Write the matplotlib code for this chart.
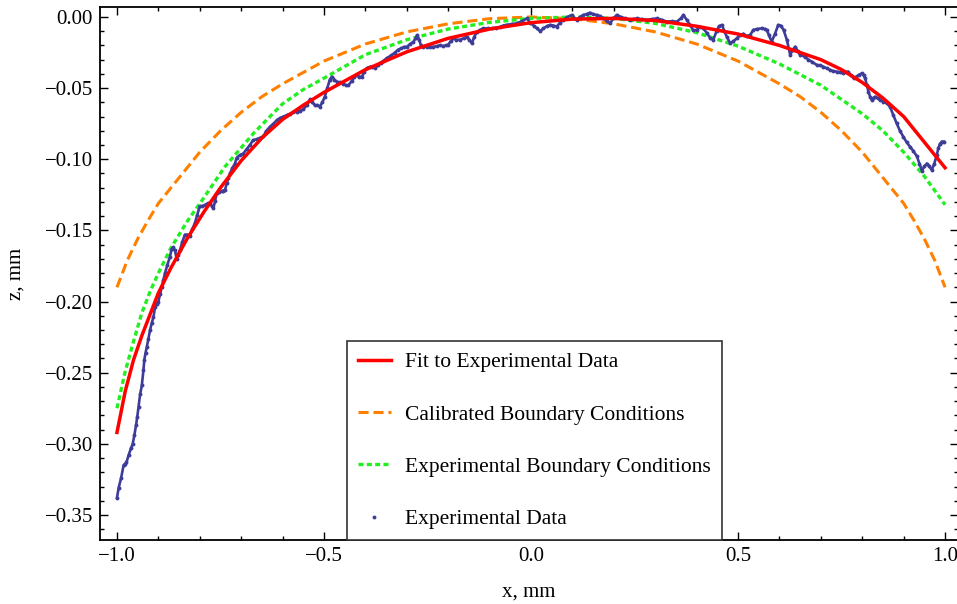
import matplotlib
matplotlib.use("Agg")
import matplotlib.pyplot as plt
from matplotlib.lines import Line2D
from matplotlib.ticker import MultipleLocator, FuncFormatter

plt.rcParams['font.family'] = ['Liberation Serif', 'DejaVu Serif']

fit_x = [-1.0, -0.98, -0.96, -0.94, -0.92, -0.9, -0.87, -0.83, -0.79, -0.75,
         -0.7, -0.65, -0.6, -0.55, -0.5, -0.4, -0.3, -0.2, -0.1, 0.0,
         0.1, 0.2, 0.3, 0.4, 0.5, 0.6, 0.7, 0.75, 0.8, 0.85, 0.9, 0.95, 1.0]
fit_z = [-0.292, -0.263, -0.241, -0.224, -0.209, -0.194, -0.1765, -0.1555, -0.137, -0.120,
         -0.101, -0.085, -0.072, -0.062, -0.053, -0.037, -0.0245, -0.015, -0.0085, -0.004,
         -0.0015, -0.001, -0.0025, -0.0065, -0.012, -0.020, -0.030, -0.037, -0.046, -0.057,
         -0.070, -0.088, -0.106]

# Calibrated boundary conditions
cal_x = [-1.0, -0.975, -0.95, -0.925, -0.9, -0.85, -0.8, -0.75, -0.7, -0.65, -0.6,
         -0.5, -0.4, -0.3, -0.2, -0.1, 0.0, 0.1, 0.2, 0.3, 0.4, 0.5,
         0.6, 0.65, 0.7, 0.75, 0.8, 0.85, 0.9, 0.925, 0.95, 0.975, 1.0]
cal_z = [-0.190, -0.171, -0.156, -0.143, -0.131, -0.113, -0.095, -0.080, -0.067, -0.056, -0.047,
         -0.031, -0.019, -0.0105, -0.0048, -0.0012, 0.0, -0.0012, -0.0048, -0.0105, -0.019, -0.031,
         -0.047, -0.056, -0.067, -0.080, -0.095, -0.113, -0.131, -0.143, -0.156, -0.171, -0.190]

# Experimental boundary conditions
exp_x = [-1.0, -0.98, -0.96, -0.94, -0.92, -0.9, -0.87, -0.83, -0.79, -0.74,
         -0.67, -0.6, -0.55, -0.5, -0.4, -0.3, -0.2, -0.1, 0.0, 0.1,
         0.2, 0.3, 0.4, 0.5, 0.6, 0.7, 0.8, 0.85, 0.9, 0.95, 1.0]
exp_z = [-0.275, -0.249, -0.228, -0.208, -0.193, -0.180, -0.1625, -0.1435, -0.127, -0.1055,
         -0.0817, -0.061, -0.051, -0.043, -0.0265, -0.016, -0.0085, -0.0038, -0.001, 0.0,
         -0.001, -0.0045, -0.011, -0.0205, -0.033, -0.048, -0.068, -0.080, -0.095, -0.112, -0.132]

# Experimental data points
data_x = [-1.000, -0.996, -0.990, -0.984, -0.980, -0.977, -0.972, -0.966, -0.962, -0.958,
          -0.954, -0.951, -0.948, -0.944, -0.940, -0.936, -0.934, -0.931, -0.928, -0.924,
          -0.920, -0.916, -0.912, -0.908, -0.904, -0.900, -0.896, -0.892, -0.888, -0.884,
          -0.878, -0.872, -0.868, -0.864, -0.860, -0.856, -0.852, -0.848, -0.842, -0.836,
          -0.830, -0.824, -0.818, -0.812, -0.806, -0.800, -0.794, -0.787, -0.781, -0.775,
          -0.771, -0.767, -0.763, -0.759, -0.753, -0.747, -0.743, -0.739, -0.735, -0.731,
          -0.727, -0.721, -0.715, -0.711, -0.703, -0.695, -0.687, -0.679, -0.671, -0.663,
          -0.655, -0.647, -0.639, -0.630, -0.622, -0.614, -0.606, -0.598, -0.590, -0.582,
          -0.574, -0.566, -0.558, -0.550, -0.542, -0.534, -0.528, -0.522, -0.516, -0.510,
          -0.504, -0.498, -0.492, -0.486, -0.481, -0.475, -0.469, -0.461, -0.453, -0.447,
          -0.441, -0.433, -0.427, -0.421, -0.415, -0.409, -0.403, -0.397, -0.389, -0.383,
          -0.377, -0.369, -0.363, -0.357, -0.349, -0.343, -0.337, -0.329, -0.321, -0.313,
          -0.306, -0.300, -0.292, -0.284, -0.279, -0.275, -0.270, -0.266, -0.260, -0.252,
          -0.244, -0.236, -0.228, -0.220, -0.212, -0.206, -0.200, -0.194, -0.188, -0.180,
          -0.171, -0.163, -0.155, -0.149, -0.143, -0.137, -0.131, -0.123, -0.115, -0.105,
          -0.095, -0.085, -0.075, -0.067, -0.059, -0.047, -0.035, -0.022, -0.010, -0.002,
          0.006, 0.014, 0.022, 0.030, 0.038, 0.046, 0.054, 0.062, 0.070, 0.078,
          0.088, 0.098, 0.104, 0.110, 0.118, 0.126, 0.134, 0.142, 0.150, 0.159,
          0.167, 0.175, 0.183, 0.191, 0.199, 0.207, 0.217, 0.227, 0.239, 0.247,
          0.255, 0.267, 0.280, 0.292, 0.304, 0.316, 0.328, 0.340, 0.352, 0.362,
          0.368, 0.376, 0.384, 0.392, 0.400, 0.408, 0.416, 0.424, 0.432, 0.440,
          0.448, 0.454, 0.461, 0.467, 0.473, 0.481, 0.489, 0.497, 0.505, 0.513,
          0.521, 0.529, 0.537, 0.545, 0.557, 0.565, 0.569, 0.575, 0.581, 0.589,
          0.597, 0.603, 0.610, 0.618, 0.626, 0.632, 0.638, 0.644, 0.650, 0.656,
          0.662, 0.670, 0.678, 0.690, 0.698, 0.706, 0.714, 0.722, 0.730, 0.738,
          0.746, 0.754, 0.760, 0.766, 0.772, 0.779, 0.785, 0.791, 0.799, 0.803,
          0.807, 0.811, 0.815, 0.819, 0.823, 0.827, 0.831, 0.837, 0.843, 0.851,
          0.859, 0.867, 0.875, 0.883, 0.891, 0.899, 0.907, 0.915, 0.923, 0.932,
          0.938, 0.944, 0.950, 0.956, 0.962, 0.968, 0.974, 0.980, 0.984, 0.988,
          0.992, 0.997]
data_z = [-0.338, -0.331, -0.324, -0.315, -0.314, -0.313, -0.308, -0.303, -0.300, -0.294,
          -0.287, -0.281, -0.274, -0.265, -0.259, -0.248, -0.241, -0.236, -0.232, -0.226,
          -0.220, -0.215, -0.211, -0.204, -0.202, -0.200, -0.195, -0.190, -0.185, -0.180,
          -0.174, -0.1685, -0.163, -0.162, -0.164, -0.170, -0.167, -0.164, -0.158, -0.153,
          -0.153, -0.154, -0.149, -0.145, -0.139, -0.133, -0.133, -0.132, -0.131, -0.131,
          -0.133, -0.1345, -0.129, -0.124, -0.123, -0.1225, -0.122, -0.1215, -0.117, -0.113,
          -0.110, -0.106, -0.103, -0.099, -0.097, -0.096, -0.093, -0.090, -0.0865, -0.086,
          -0.085, -0.084, -0.080, -0.077, -0.075, -0.0725, -0.071, -0.070, -0.069, -0.068,
          -0.067, -0.0665, -0.066, -0.065, -0.062, -0.058, -0.060, -0.062, -0.062, -0.063,
          -0.060, -0.056, -0.050, -0.044, -0.042, -0.044, -0.0455, -0.046, -0.047, -0.048,
          -0.048, -0.045, -0.042, -0.041, -0.042, -0.042, -0.039, -0.036, -0.035, -0.035,
          -0.036, -0.034, -0.032, -0.031, -0.029, -0.028, -0.027, -0.025, -0.023, -0.022,
          -0.021, -0.021, -0.019, -0.0175, -0.015, -0.0127, -0.016, -0.020, -0.021, -0.021,
          -0.021, -0.021, -0.0205, -0.020, -0.0205, -0.020, -0.0195, -0.017, -0.015, -0.016,
          -0.016, -0.015, -0.014, -0.016, -0.0185, -0.014, -0.0105, -0.009, -0.008, -0.008,
          -0.008, -0.0075, -0.007, -0.006, -0.0055, -0.005, -0.0045, -0.003, -0.001, -0.004,
          -0.006, -0.008, -0.010, -0.008, -0.0065, -0.0056, -0.006, -0.0068, -0.004, -0.002,
          0.000, 0.0014, -0.0005, -0.002, 0.000, 0.0014, 0.002, 0.003, 0.002, 0.0014,
          0.0005, -0.001, -0.003, -0.0044, -0.001, 0.0014, 0.000, -0.001, -0.002, -0.0015,
          -0.001, -0.0015, -0.002, -0.0015, -0.001, -0.002, -0.0033, -0.003, -0.0033, -0.001,
          0.0014, -0.002, -0.0056, -0.0095, -0.009, -0.007, -0.008, -0.011, -0.0145, -0.0162,
          -0.010, -0.0065, -0.0056, -0.010, -0.014, -0.0185, -0.017, -0.015, -0.0127, -0.0118,
          -0.0135, -0.0127, -0.0091, -0.0085, -0.008, -0.0085, -0.0091, -0.013, -0.0174, -0.012,
          -0.0056, -0.006, -0.0091, -0.0162, -0.0267, -0.023, -0.0209, -0.024, -0.0267, -0.027,
          -0.028, -0.030, -0.0314, -0.0337, -0.034, -0.035, -0.036, -0.0372, -0.038, -0.0384,
          -0.039, -0.0396, -0.039, -0.0384, -0.041, -0.043, -0.042, -0.0408, -0.0396, -0.041,
          -0.043, -0.048, -0.0525, -0.056, -0.0583, -0.057, -0.056, -0.057, -0.0583, -0.0595,
          -0.0607, -0.063, -0.069, -0.0747, -0.080, -0.0841, -0.088, -0.0911, -0.094, -0.098,
          -0.103, -0.108, -0.105, -0.103, -0.105, -0.1075, -0.103, -0.097, -0.092, -0.089,
          -0.0876, -0.0876]

x_ticks = [-1.0, -0.5, 0.0, 0.5, 1.0]
z_ticks = [0.0, -0.05, -0.10, -0.15, -0.20, -0.25, -0.30, -0.35]

blue = "#3d3d99"

fig = plt.figure(figsize=(9.57, 6.04), dpi=100)
ax = fig.add_axes([100 / 957, 64 / 604, 857.5 / 957, 532.7 / 604])

ax.plot(data_x, data_z, color=blue, lw=1.9, marker="o", ms=2.8, mew=0, zorder=3)
ax.plot(fit_x, fit_z, color="#ff0000", lw=2.5, zorder=4)
ax.plot(cal_x, cal_z, color="#ff8000", lw=2.2, dashes=(3.3, 1.6), zorder=2)
ax.plot(exp_x, exp_z, color="#22ee22", lw=2.4, dashes=(1.5, 1.0), zorder=2)

ax.set_xlim(-1.041, 1.030)
ax.set_ylim(-0.3676, 0.0068)

ax.set_xticks(x_ticks)
ax.set_yticks(z_ticks)
ax.xaxis.set_minor_locator(MultipleLocator(0.1))
ax.yaxis.set_minor_locator(MultipleLocator(0.01))
ax.xaxis.set_major_formatter(FuncFormatter(lambda v, p: f"{v:.1f}".replace("-", "\u2212")))
ax.yaxis.set_major_formatter(FuncFormatter(lambda v, p: f"{v:.2f}".replace("-", "\u2212")))
ax.tick_params(which="both", direction="in", top=True, right=True, width=1.0,
               labelsize=15, pad=5)
ax.tick_params(which="major", length=5.5)
ax.tick_params(which="minor", length=3)
for s in ax.spines.values():
    s.set_linewidth(1.3)

ax.set_xlabel("x, mm", fontsize=15, labelpad=12)
ax.set_ylabel("z, mm", fontsize=15, labelpad=14)

handles = [
    Line2D([], [], color="#ff0000", lw=2.5),
    Line2D([], [], color="#ff8000", lw=2.2, dashes=(3.3, 1.6)),
    Line2D([], [], color="#22ee22", lw=2.4, dashes=(1.5, 1.0)),
    Line2D([], [], color=blue, ls="none", marker="o", ms=2.8, mew=0),
]
labels = ["Fit to Experimental Data", "Calibrated Boundary Conditions",
          "Experimental Boundary Conditions", "Experimental Data"]
leg = ax.legend(handles, labels, loc="lower left", bbox_to_anchor=(0.288, 0.0),
                borderaxespad=0, fontsize=15.5, labelspacing=1.5, borderpad=0.5,
                handlelength=1.55, handletextpad=0.65, fancybox=False, framealpha=1,
                edgecolor="#333333")
leg.get_frame().set_linewidth(1.2)
leg.set_zorder(5)

fig.savefig("out.png", dpi=100)
